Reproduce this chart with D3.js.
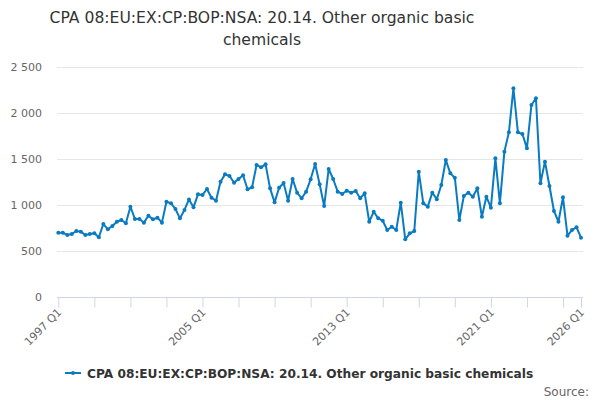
<!DOCTYPE html>
<html>
<head>
<meta charset="utf-8">
<script src="https://cdn.jsdelivr.net/npm/d3@7"></script>
<style>
  body { margin: 0; background: #fff; }
  text { font-family: "DejaVu Sans", sans-serif; }
</style>
</head>
<body>
<div id="chart"></div>
<script>
// quarterly values, 1997 Q1 .. 2026 Q1
var startYear = 1997;
var values = [
  699, 699, 674, 685,
  717, 710, 674, 685,
  692, 649, 793, 736,
  772, 818, 837, 801,
  982, 848, 848, 808,
  884, 844, 862, 808,
  1036, 1018, 957, 855,
  946, 1060, 975, 1116,
  1109, 1174, 1079, 1047,
  1253, 1333, 1315, 1243,
  1283, 1323, 1171, 1192,
  1435, 1409, 1442, 1181,
  1029, 1188, 1239, 1047,
  1283, 1134, 1073, 1145,
  1279, 1446, 1225, 989,
  1391, 1283, 1145, 1120,
  1155, 1134, 1152, 1073,
  1127, 818, 927, 855,
  829, 728, 764, 728,
  1025, 627, 692, 717,
  1362, 1018, 982, 1134,
  1062, 1217, 1489, 1344,
  1297, 837, 1098, 1134,
  1090, 1181, 873, 1090,
  971, 1507, 1018, 1580,
  1790, 2268, 1790, 1772,
  1616, 2087, 2160, 1236,
  1471, 1207, 935, 818,
  1084, 667, 728, 758,
  645
];
var quarters = values.map(function(v, i) {
  return (startYear + Math.floor(i / 4)) + " Q" + (i % 4 + 1);
});
var yTicks = [0, 500, 1000, 1500, 2000, 2500];
var tickQuarters = d3.range(0, values.length, 8).concat([values.length - 1]);
var labelQuarters = ["1997 Q1", "2005 Q1", "2013 Q1", "2021 Q1", "2026 Q1"];

var titleLines = ["CPA 08:EU:EX:CP:BOP:NSA: 20.14. Other organic basic", "chemicals"];
var seriesName = "CPA 08:EU:EX:CP:BOP:NSA: 20.14. Other organic basic chemicals";

var svgWidth = 600;
var svgHeight = 400;
var lineColor = "#0a7bc1";

var svg = d3.select("#chart").append("svg")
  .attr("width", svgWidth)
  .attr("height", svgHeight);

var x = d3.scaleLinear()
  .domain([0, values.length - 1])
  .range([58.3, 581]);

var y = d3.scaleLinear()
  .domain([0, 2500])
  .range([297, 67]);

// title
svg.append("text")
  .attr("x", 262)
  .attr("y", 23)
  .attr("text-anchor", "middle")
  .attr("font-size", "15.6px")
  .attr("fill", "#333")
  .selectAll("tspan")
  .data(titleLines).enter()
  .append("tspan")
  .attr("x", 262)
  .attr("dy", (d, i) => i ? 22 : 0)
  .text(d => d);

// gridlines + y labels
svg.append("g")
  .selectAll("line")
  .data(yTicks.slice(1)).enter()
  .append("line")
  .attr("x1", 57)
  .attr("x2", 583)
  .attr("y1", d => Math.round(y(d)) + 0.5)
  .attr("y2", d => Math.round(y(d)) + 0.5)
  .attr("stroke", "#e6e6e6");

svg.append("g")
  .selectAll("text")
  .data(yTicks).enter()
  .append("text")
  .attr("x", 42)
  .attr("y", d => y(d) + 4)
  .attr("text-anchor", "end")
  .attr("font-size", "11px")
  .attr("fill", "#666")
  .text(d => d3.format(",")(d).replace(/,/g, " "));

// x axis
var xAxis = d3.axisBottom(x)
  .tickValues(tickQuarters)
  .tickSize(10)
  .tickFormat("");

var xg = svg.append("g")
  .attr("transform", "translate(0, 297.5)")
  .call(xAxis);
xg.select(".domain")
  .attr("d", "M57,0H583")
  .attr("stroke", "#ccd6eb");
xg.selectAll(".tick line").attr("stroke", "#ccd6eb");

svg.append("g")
  .selectAll("text")
  .data(labelQuarters).enter()
  .append("text")
  .attr("transform", d => `translate(${x(quarters.indexOf(d)) + 4}, 313) rotate(-45)`)
  .attr("text-anchor", "end")
  .attr("font-size", "11px")
  .attr("fill", "#666")
  .text(d => d);

// series
var line = d3.line()
  .x((d, i) => x(i))
  .y(d => y(d));

svg.append("path")
  .datum(values)
  .attr("d", line)
  .attr("fill", "none")
  .attr("stroke", lineColor)
  .attr("stroke-width", 2)
  .attr("stroke-linejoin", "round");

svg.append("g")
  .selectAll("circle")
  .data(values).enter()
  .append("circle")
  .attr("cx", (d, i) => x(i))
  .attr("cy", d => y(d))
  .attr("r", 2)
  .attr("fill", lineColor);

// legend
var legend = svg.append("g").attr("transform", "translate(65, 373)");
legend.append("line")
  .attr("x1", 0).attr("x2", 16)
  .attr("stroke", lineColor)
  .attr("stroke-width", 2);
legend.append("circle")
  .attr("cx", 8)
  .attr("r", 2)
  .attr("fill", lineColor);
legend.append("text")
  .attr("x", 22)
  .attr("y", 4.5)
  .attr("font-size", "12.2px")
  .attr("font-weight", "bold")
  .attr("fill", "#333")
  .text(seriesName);

// credits
svg.append("text")
  .attr("x", 589)
  .attr("y", 396)
  .attr("text-anchor", "end")
  .attr("font-size", "12px")
  .attr("fill", "#666")
  .text("Source:");
</script>
</body>
</html>
